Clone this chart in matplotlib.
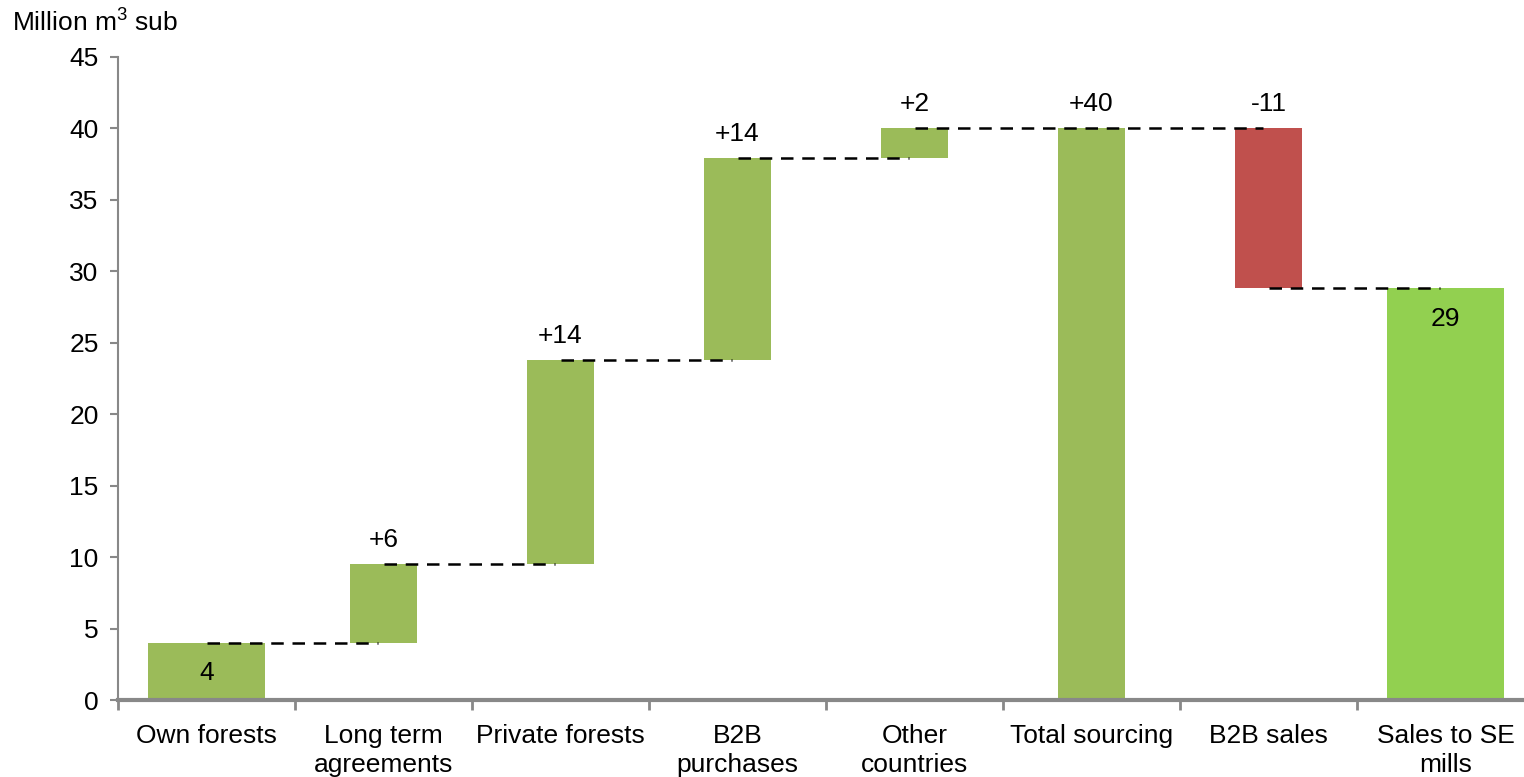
import matplotlib.pyplot as plt

plt.rcParams['font.family'] = ['Liberation Sans', 'DejaVu Sans']
plt.rcParams['mathtext.fontset'] = 'custom'
plt.rcParams['mathtext.rm'] = 'Liberation Sans'

categories = ['Own forests', 'Long term\nagreements', 'Private forests', 'B2B\npurchases',
              'Other\ncountries', 'Total sourcing', 'B2B sales', 'Sales to SE\nmills']
bottoms = [0, 4.0, 9.5, 23.8, 37.9, 0, 28.8, 0]
tops = [4.0, 9.5, 23.8, 37.9, 40.0, 40.0, 40.0, 28.8]
labels = ['4', '+6', '+14', '+14', '+2', '+40', '-11', '29']
label_inside = [True, False, False, False, False, False, False, True]
widths = [0.66, 0.375, 0.375, 0.375, 0.375, 0.375, 0.375, 0.66]
colors = ['#9BBB59'] * 6 + ['#C0504D', '#92D050']
# connectors: (from index, to index, level)
connectors = [(0, 1, 4.0), (1, 2, 9.5), (2, 3, 23.8), (3, 4, 37.9), (4, 6, 40.0), (6, 7, 28.8)]

fig = plt.figure(figsize=(15.24, 7.77), dpi=100)
ax = fig.add_axes([118 / 1524, 1 - 700 / 777, 8 * 177 / 1524, (700 - 57) / 777])

x = list(range(len(categories)))
heights = [t - b for t, b in zip(tops, bottoms)]
ax.bar(x, heights, bottom=bottoms, width=widths, color=colors, zorder=2)

for i, j, lvl in connectors:
    ax.plot([i, j - 0.03], [lvl, lvl], color='black', linestyle=(0, (5, 3.5)), lw=1.8, zorder=3)

for i in x:
    off = -22 if label_inside[i] else 17.5
    ax.annotate(labels[i], (i, tops[i]), xytext=(0, off), textcoords='offset points',
                ha='center', va='center', fontsize=19)

ax.set_xlim(-0.5, len(categories) - 0.5)
ax.set_ylim(0, 45)
ax.set_yticks(range(0, 46, 5))
ax.set_xticks(x)
ax.set_xticklabels(categories, fontsize=19, linespacing=1.3)
ax.set_xticks([i - 0.5 for i in range(len(categories) + 1)], minor=True)
ax.tick_params(axis='x', which='major', length=0, pad=17)
ax.tick_params(axis='x', which='minor', length=7, width=2, color='#888888')
ax.tick_params(axis='y', length=6, width=1.5, color='#888888', labelsize=19, pad=8)

for s in ['top', 'right']:
    ax.spines[s].set_visible(False)
ax.spines['left'].set_color('#888888')
ax.spines['left'].set_linewidth(1.5)
ax.spines['bottom'].set_color('#888888')
ax.spines['bottom'].set_linewidth(3)

fig.text(12 / 1524, 1 - 22 / 777, 'Million m$^\\mathrm{3}$ sub', fontsize=19, va='center', ha='left')

fig.savefig('out.png', dpi=100)
